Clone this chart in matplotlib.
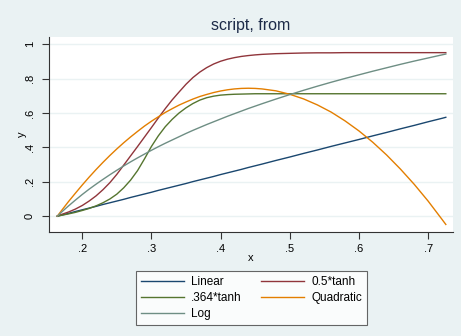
import matplotlib
matplotlib.use("Agg")
import matplotlib.pyplot as plt

plt.rcParams['font.family'] = ['Liberation Sans', 'DejaVu Sans']

x = [0.164, 0.17, 0.18, 0.19, 0.20, 0.21, 0.22, 0.23, 0.24, 0.25, 0.26, 0.27, 0.28, 0.29,
     0.30, 0.31, 0.32, 0.33, 0.34, 0.35, 0.36, 0.37, 0.38, 0.39, 0.40, 0.41, 0.42, 0.43,
     0.44, 0.45, 0.46, 0.48, 0.50, 0.52, 0.54, 0.56, 0.58, 0.60, 0.62, 0.64, 0.66, 0.68,
     0.70, 0.72, 0.7256]

linear = [0.0, 0.006, 0.016, 0.027, 0.037, 0.047, 0.057, 0.068, 0.078, 0.088, 0.098, 0.109,
          0.119, 0.129, 0.139, 0.150, 0.160, 0.170, 0.180, 0.190, 0.201, 0.211, 0.221, 0.231,
          0.242, 0.252, 0.262, 0.272, 0.283, 0.293, 0.303, 0.324, 0.344, 0.365, 0.385, 0.406,
          0.426, 0.446, 0.467, 0.487, 0.508, 0.528, 0.549, 0.569, 0.575]
tanh05 = [0.0, 0.010, 0.024, 0.041, 0.062, 0.088, 0.118, 0.154, 0.195, 0.243, 0.297, 0.351,
          0.405, 0.460, 0.515, 0.571, 0.625, 0.676, 0.722, 0.767, 0.806, 0.838, 0.864, 0.885,
          0.901, 0.913, 0.922, 0.929, 0.934, 0.938, 0.941, 0.945, 0.947, 0.949, 0.950, 0.950,
          0.951, 0.951, 0.951, 0.951, 0.951, 0.951, 0.951, 0.951, 0.951]
tanh364 = [0.0, 0.005, 0.013, 0.022, 0.033, 0.045, 0.060, 0.078, 0.100, 0.128, 0.165, 0.210,
           0.265, 0.333, 0.405, 0.467, 0.520, 0.563, 0.600, 0.630, 0.655, 0.675, 0.689, 0.698,
           0.704, 0.707, 0.709, 0.710, 0.711, 0.712, 0.712, 0.712, 0.712, 0.712, 0.712, 0.712,
           0.712, 0.712, 0.712, 0.712, 0.712, 0.712, 0.712, 0.712, 0.712]
quadratic = [0.0, 0.032, 0.084, 0.133, 0.181, 0.227, 0.271, 0.313, 0.353, 0.391, 0.427, 0.461,
             0.493, 0.524, 0.552, 0.578, 0.603, 0.625, 0.646, 0.664, 0.681, 0.696, 0.708, 0.719,
             0.728, 0.735, 0.740, 0.743, 0.744, 0.743, 0.740, 0.729, 0.709, 0.682, 0.647, 0.605,
             0.554, 0.496, 0.430, 0.356, 0.274, 0.185, 0.088, -0.018, -0.048]
logv = [0.0, 0.023, 0.059, 0.093, 0.126, 0.157, 0.186, 0.214, 0.241, 0.267, 0.292, 0.316,
        0.339, 0.361, 0.383, 0.404, 0.424, 0.443, 0.462, 0.481, 0.499, 0.516, 0.533, 0.549,
        0.565, 0.581, 0.596, 0.611, 0.626, 0.640, 0.654, 0.681, 0.707, 0.732, 0.756, 0.779,
        0.801, 0.822, 0.843, 0.863, 0.883, 0.902, 0.920, 0.938, 0.943]

labels = ["Linear", "0.5*tanh", ".364*tanh", "Quadratic", "Log"]
colors = ["#1a476f", "#90353b", "#55752f", "#e37e00", "#6e8e84"]

xticks = [0.2, 0.3, 0.4, 0.5, 0.6, 0.7]
xticklabels = [".2", ".3", ".4", ".5", ".6", ".7"]
yticks = [0, 0.2, 0.4, 0.6, 0.8, 1.0]
yticklabels = ["0", ".2", ".4", ".6", ".8", "1"]

bg = "#eaf2f3"
fig = plt.figure(figsize=(4.61, 3.36), dpi=100, facecolor=bg)
ax = fig.add_axes([49/461, 1-232/336, (453-49)/461, (232-37)/336])
ax.set_facecolor("white")

series = [linear, tanh05, tanh364, quadratic, logv]
handles = {}
for lab, ys, c in zip(labels, series, colors):
    h, = ax.plot(x, ys, color=c, lw=1.0, zorder=3)
    handles[lab] = h

ax.set_xlim(0.152, 0.736)
ax.set_ylim(-0.092, 1.042)
ax.set_xticks(xticks)
ax.set_xticklabels(xticklabels)
ax.set_yticks(yticks)
ax.set_yticklabels(yticklabels, rotation=90, va="center")
ax.tick_params(axis="both", direction="out", length=5, width=0.8, color="#333333",
               labelsize=8, labelcolor="black")
ax.tick_params(axis="x", pad=4)
ax.tick_params(axis="y", pad=5)
ax.grid(axis="y", color=bg, lw=1.0, zorder=0)
ax.grid(axis="x", visible=False)
for s in ["top", "right"]:
    ax.spines[s].set_visible(False)
for s in ["left", "bottom"]:
    ax.spines[s].set_color("#333333")
    ax.spines[s].set_linewidth(0.8)

ax.set_xlabel("x", fontsize=8, labelpad=-1)
ax.set_ylabel("y", fontsize=8)
ax.yaxis.set_label_coords((27 - 49) / 404, 0.5)
ax.set_title("script, from", fontsize=11.5, color="#1c2a48", pad=5)

order = ["Linear", ".364*tanh", "Log", "0.5*tanh", "Quadratic"]
leg = fig.legend([handles[k] for k in order], order, ncol=2, loc="upper center",
                 bbox_to_anchor=(251.5/461, 1-271/336), fontsize=8.5,
                 frameon=True, fancybox=False, edgecolor="#404040", facecolor="white",
                 handlelength=3.65, handletextpad=0.6, columnspacing=1.6,
                 labelspacing=0.35, borderpad=0.4, borderaxespad=0)
leg.get_frame().set_linewidth(0.8)

fig.savefig("out.png", dpi=100, facecolor=bg)
